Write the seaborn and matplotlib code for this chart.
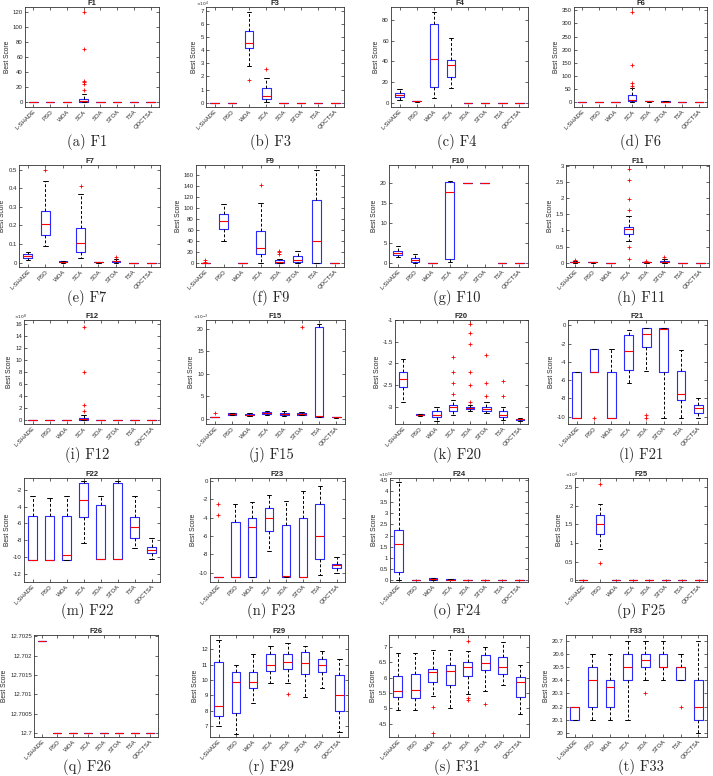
import numpy as np
import pandas as pd
import seaborn as sns
import matplotlib
matplotlib.use("Agg")
import matplotlib.pyplot as plt
from matplotlib.ticker import MultipleLocator, FuncFormatter

algorithms = ["L-SHADE", "PSO", "WOA", "SCA", "SOA", "STOA", "TSA", "QOCTSA"]
zero = [0, 0, 0, 0, 0]

# best scores of the runs, one list per algorithm
f1 = [zero, zero, zero,
      [0.1, 0.2, 0.3, 0.4, 0.4, 0.5, 0.5, 0.6, 0.8, 1.0, 1.2, 1.5, 1.7, 1.9, 2.2,
       2.4, 2.6, 3.0, 3.5, 4.0, 4.5, 5.0, 11, 16, 25, 27, 29, 71, 120],
      zero, zero, zero, zero]
f3 = [zero, zero,
      [1.75e4, 2.8e4, 4.2e4, 4.4e4, 4.55e4, 5.0e4, 5.5e4, 6.2e4, 6.9e4],
      [0.05e4, 0.2e4, 0.3e4, 0.4e4, 0.5e4, 0.8e4, 1.15e4, 1.85e4, 2.55e4],
      zero, zero, zero, zero]
f4 = [[3, 5.5, 7.5, 9, 13], [1.0, 1.3, 1.5, 1.7, 2.0], [4.5, 15, 42, 76, 88],
      [14, 25, 37, 41, 63], zero, zero, zero, zero]
f6 = [zero, zero, [0, 0.5, 1, 1.5, 2],
      [3, 4, 5, 6, 6.5, 7, 7.5, 8, 8.5, 8.8, 9, 12, 15, 19, 24, 28, 55, 62, 73, 142, 342],
      [3, 3.5, 4, 4.5, 5], [2, 2.5, 3, 3.5, 4], zero, zero]
f7 = [[0.012, 0.025, 0.035, 0.045, 0.055],
      [0.09, 0.12, 0.15, 0.18, 0.21, 0.25, 0.28, 0.44, 0.5],
      [0.0, 0.001, 0.003, 0.006, 0.01],
      [0.022, 0.04, 0.055, 0.08, 0.103, 0.15, 0.185, 0.37, 0.41],
      [0.0, 0.001, 0.002, 0.003, 0.005],
      [0, 0.002, 0.003, 0.005, 0.006, 0.008, 0.01, 0.018, 0.028],
      zero, zero]
f9 = [[0, 0, 0, 0, 0, 0, 0, 0, 0, 2, 4], [40, 62, 77, 88, 108], zero,
      [0, 8, 15, 20, 26, 40, 57, 109, 142],
      [0, 0, 0, 0, 0, 0.5, 0.8, 1, 1, 2, 3, 3.5, 4, 7, 16, 19, 22],
      [0, 2, 5, 13, 22], [0, 0, 39, 115, 170], zero]
f10 = [[1.4, 2.0, 2.5, 2.9, 4.1], [0, 0.2, 0.7, 1.2, 2.3], zero,
       [0.1, 0.9, 17.8, 20.3, 20.5], [20, 20, 20, 20, 20], [20, 20, 20, 20, 20],
       zero, zero]
f11 = [[0, 0, 0.005, 0.01, 0.015, 0.02, 0.03, 0.04, 0.08],
       [0, 0.005, 0.01, 0.02, 0.03], zero,
       [0.1, 0.48, 0.68, 0.8, 0.86, 0.89, 0.95, 0.98, 1.01, 1.03, 1.06, 1.08, 1.09,
        1.1, 1.11, 1.12, 1.44, 1.63, 1.97, 2.57, 2.91],
       [0, 0, 0.005, 0.008, 0.01, 0.015, 0.02, 0.03, 0.06],
       [0, 0.005, 0.01, 0.02, 0.03, 0.04, 0.05, 0.1, 0.17], zero, zero]
f12 = [zero, zero, zero,
       [0, 0.01e8, 0.02e8, 0.03e8, 0.04e8, 0.05e8, 0.07e8, 0.09e8, 0.11e8, 0.13e8,
        0.15e8, 0.2e8, 0.25e8, 0.3e8, 0.35e8, 0.4e8, 0.9e8, 1.5e8, 2.5e8, 8.0e8, 15.5e8],
       zero, zero, zero, zero]
f15 = [[0.3e-3, 0.3e-3, 0.3e-3, 0.3e-3, 0.3e-3, 0.3e-3, 0.3e-3, 0.3e-3, 1.2e-3],
       [0.7e-3, 0.8e-3, 1.0e-3, 1.15e-3, 1.3e-3],
       [0.5e-3, 0.7e-3, 0.9e-3, 1.1e-3, 1.3e-3],
       [0.9e-3, 1.05e-3, 1.2e-3, 1.4e-3, 1.6e-3],
       [0.6e-3, 0.7e-3, 0.8e-3, 0.95e-3, 1.1e-3, 1.15e-3, 1.2e-3, 1.3e-3, 1.6e-3],
       [0.7e-3, 0.8e-3, 0.9e-3, 1.0e-3, 1.05e-3, 1.1e-3, 1.2e-3, 1.4e-3, 20.5e-3],
       [0.3e-3, 0.4e-3, 0.5e-3, 20.4e-3, 21e-3],
       [0.2e-3, 0.25e-3, 0.3e-3, 0.35e-3, 0.4e-3]]
f20 = [[-2.9, -2.55, -2.35, -2.2, -1.9],
       [-3.21, -3.2, -3.19, -3.18, -3.17],
       [-3.32, -3.25, -3.2, -3.1, -3.0],
       [-3.2, -3.18, -3.15, -3.13, -3.11, -3.1, -3.08, -3.06, -3.04, -3.02, -3.0,
        -2.99, -2.98, -2.97, -2.96, -2.95, -2.85, -2.7, -2.45, -2.2, -1.85],
       [-3.1, -3.09, -3.08, -3.07, -3.06, -3.06, -3.05, -3.05, -3.04, -3.04, -3.03,
        -3.03, -3.03, -3.02, -3.02, -3.02, -3.01, -3.01, -3.01, -3.0, -3.0, -3.0,
        -2.96, -2.9, -2.5, -2.2, -1.55, -1.3, -1.1],
       [-3.15, -3.13, -3.12, -3.11, -3.1, -3.08, -3.07, -3.06, -3.05, -3.04, -3.03,
        -3.02, -3.0, -2.9, -2.75, -2.45, -1.8],
       [-3.3, -3.28, -3.26, -3.25, -3.23, -3.21, -3.2, -3.17, -3.13, -3.1, -3.0,
        -2.75, -2.4],
       [-3.32, -3.3, -3.29, -3.28, -3.27]]
f21 = [[-10.15, -10.15, -10.15, -5.1, -5.1],
       [-10.15, -5.1, -5.1, -5.1, -5.1, -3.5, -2.6, -2.6, -2.6],
       [-10.15, -10.15, -10.1, -5.1, -2.6],
       [-6.3, -4.9, -2.8, -1.0, -0.5],
       [-10.1, -9.8, -5.0, -2.4, -2.0, -1.5, -0.9, -0.6, -0.4, -0.3, -0.3, -0.3, -0.3],
       [-10.1, -5.05, -0.4, -0.3, -0.3],
       [-10.1, -8.2, -7.5, -5.0, -2.7],
       [-10.1, -9.6, -9.1, -8.7, -8.0]]
f22 = [[-10.4, -10.4, -10.4, -5.1, -2.8],
       [-10.4, -10.4, -10.4, -5.1, -3.0],
       [-10.4, -10.4, -9.8, -5.1, -2.8],
       [-8.4, -5.2, -3.2, -1.2, -0.9],
       [-10.3, -10.3, -10.3, -3.8, -2.7],
       [-10.3, -10.3, -10.3, -1.2, -0.9],
       [-9.0, -7.8, -6.5, -5.2, -2.7],
       [-10.3, -9.6, -9.2, -8.8, -7.8]]
f23 = [[-10.5, -10.5, -10.5, -10.5, -10.5, -10.5, -10.5, -3.7, -2.5],
       [-10.5, -10.5, -10.5, -4.5, -2.5],
       [-10.5, -10.5, -5.0, -4.0, -2.3],
       [-7.6, -6.5, -5.5, -4.6, -4.0, -3.6, -3.0, -2.2, -1.5],
       [-10.5, -10.5, -10.4, -4.8, -2.2],
       [-10.5, -10.5, -10.5, -4.0, -1.1],
       [-10.2, -8.5, -6.0, -2.5, -0.6],
       [-10.0, -9.5, -9.2, -9.0, -8.3]]
f24 = [[0, 0.35e12, 1.6e12, 2.25e12, 4.4e12], zero,
       [0, 0.01e12, 0.03e12, 0.06e12, 0.1e12],
       [0, 0, 0.01e12, 0.02e12, 0.03e12], zero, zero, zero, zero]
f25 = [zero,
       [0.45e4, 0.85e4, 1.25e4, 1.4e4, 1.5e4, 1.6e4, 1.75e4, 2.05e4, 2.6e4],
       zero, zero, zero, zero, zero, zero]
f26 = [[12.70238, 12.70238, 12.70238, 12.70238, 12.70238]] + \
      [[12.7, 12.7, 12.7, 12.7, 12.7] for _ in range(7)]
f29 = [[7.0, 7.65, 8.3, 11.15, 12.6], [6.5, 7.85, 9.85, 10.5, 11.0],
       [8.5, 9.5, 9.85, 10.5, 11.7], [9.8, 10.6, 11.0, 11.7, 12.2],
       [9.1, 9.8, 10.7, 10.9, 11.2, 11.5, 11.7, 12.0, 12.4],
       [8.9, 9.35, 10.0, 10.4, 10.7, 10.9, 11.1, 11.3, 11.5, 11.8, 12.0, 12.1, 12.2],
       [9.5, 10.5, 11.0, 11.4, 11.9], [6.6, 8.0, 9.0, 10.3, 11.4]]
f31 = [[4.95, 5.37, 5.55, 6.05, 6.78], [4.93, 5.33, 5.6, 6.13, 6.78],
       [4.2, 5.03, 5.4, 5.8, 6.0, 6.1, 6.15, 6.18, 6.2, 6.25, 6.3, 6.35, 6.4, 6.88],
       [5.0, 5.77, 6.2, 6.4, 6.9],
       [5.27, 5.35, 5.45, 6.0, 6.05, 6.17, 6.25, 6.3, 6.35, 6.4, 6.45, 6.48, 6.5,
        6.52, 6.53, 6.87, 7.2],
       [5.13, 5.57, 6.25, 6.35, 6.47, 6.6, 6.73, 6.85, 6.98],
       [5.77, 6.12, 6.35, 6.65, 7.15], [4.83, 5.38, 5.86, 6.02, 6.4]]
f33 = [[20.1, 20.1, 20.2, 20.2, 20.2], [20.1, 20.2, 20.4, 20.5, 20.6],
       [20.1, 20.2, 20.35, 20.4, 20.6], [20.1, 20.4, 20.5, 20.6, 20.7],
       [20.3, 20.4, 20.5, 20.52, 20.55, 20.58, 20.6, 20.65, 20.7],
       [20.4, 20.5, 20.5, 20.6, 20.7],
       [20.2, 20.4, 20.4, 20.45, 20.5, 20.5, 20.5, 20.55, 20.6],
       [20.0, 20.1, 20.2, 20.4, 20.7]]

# title, runs, y limits, tick step, power of ten shown above the axis
panels = [
    ("F1", f1, (-6, 127), 20, 0), ("F3", f3, (-0.33e4, 7.3e4), 1e4, 4),
    ("F4", f4, (-4.1, 92.7), 20, 0), ("F6", f6, (-17.6, 362.6), 50, 0),
    ("F7", f7, (-0.024, 0.525), 0.1, 0), ("F9", f9, (-8, 178.5), 20, 0),
    ("F10", f10, (-1.1, 24.6), 5, 0), ("F11", f11, (-0.137, 3.04), 0.5, 0),
    ("F12", f12, (-0.6e8, 16.6e8), 2e8, 8), ("F15", f15, (-1.2e-3, 22e-3), 5e-3, -3),
    ("F20", f20, (-3.4, -1.0), 0.5, 0), ("F21", f21, (-10.8, 0.6), 2, 0),
    ("F22", f22, (-13, -0.6), 2, 0), ("F23", f23, (-11, 0.3), 2, 0),
    ("F24", f24, (-0.1e12, 4.6e12), 0.5e12, 12), ("F25", f25, (-0.05e4, 2.75e4), 0.5e4, 4),
    ("F26", f26, (12.6999, 12.70253), 0.0005, 0), ("F29", f29, (6.3, 12.93), 1, 0),
    ("F31", f31, (4.07, 7.38), 0.5, 0), ("F33", f33, (19.97, 20.743), 0.1, 0),
]
letters = "abcdefghijklmnopqrst"

# axes frames in pixels
xspan = [(25, 159), (206, 344), (391, 528), (574, 707),
         (19, 160), (196, 344), (389, 528), (566, 709),
         (24, 160), (206, 345), (395, 528), (568, 707),
         (24, 160), (210, 345), (390, 528), (575, 707),
         (34, 158), (210, 348), (389, 529), (566, 707)]
rows_px = [(7, 107), (165, 267), (320, 424), (478, 582), (635, 737)]
cap_x = [87, 271, 457, 641]
cap_y = [142, 298, 455, 611, 767]
W, H = 713, 776

sns.set_style("ticks")
plt.rcParams["font.family"] = ["Liberation Sans", "DejaVu Sans"]

fig = plt.figure(figsize=(W / 100, H / 100), dpi=100)

for i, (name, runs, ylim, step, exp) in enumerate(panels):
    l, r = xspan[i]
    t, b = rows_px[i // 4]
    ax = fig.add_axes([l / W, 1 - b / H, (r - l) / W, (b - t) / H])
    df = pd.DataFrame([(a, v) for a, vals in zip(algorithms, runs) for v in vals],
                      columns=["alg", "score"])
    sns.boxplot(data=df, x="alg", y="score", order=algorithms, ax=ax, width=0.5,
                fill=False, color="#2a2aff", saturation=1, linewidth=0.8,
                medianprops=dict(color="red", linewidth=0.8),
                whiskerprops=dict(color="black", linestyle=(0, (3, 2)), linewidth=0.7),
                capprops=dict(color="black", linewidth=0.7),
                flierprops=dict(marker="+", markeredgecolor="red", markersize=3,
                                markeredgewidth=0.6))
    ax.set_ylim(*ylim)
    ax.yaxis.set_major_locator(MultipleLocator(step))
    scale = 10.0 ** exp
    ax.yaxis.set_major_formatter(
        FuncFormatter(lambda v, p, s=scale: f"{round(v / s, 6) + 0:g}"))
    if exp:
        ax.text(0.02, 1.028, rf"$\times10^{{{exp}}}$", transform=ax.transAxes,
                fontsize=3.2, ha="right", va="center")
    ax.set_xticks(range(len(algorithms)))
    ax.set_xticklabels(algorithms, rotation=45, ha="right", rotation_mode="anchor")
    ax.tick_params(direction="in", length=2, width=0.5, labelsize=4.3,
                   top=True, right=True, pad=1.5)
    ax.set_xlabel("")
    ax.set_ylabel("Best Score", fontsize=4.8, labelpad=1.5)
    ax.set_title(name, fontsize=5.5, fontweight="bold", pad=1.5)
    for s in ax.spines.values():
        s.set_linewidth(0.6)
        s.set_color("#333333")
    fig.text(cap_x[i % 4] / W, 1 - cap_y[i // 4] / H, f"({letters[i]}) {name}",
             fontfamily="cmr10", fontsize=10.5, ha="center", va="center")

fig.savefig("out.png", dpi=100, facecolor="white")
